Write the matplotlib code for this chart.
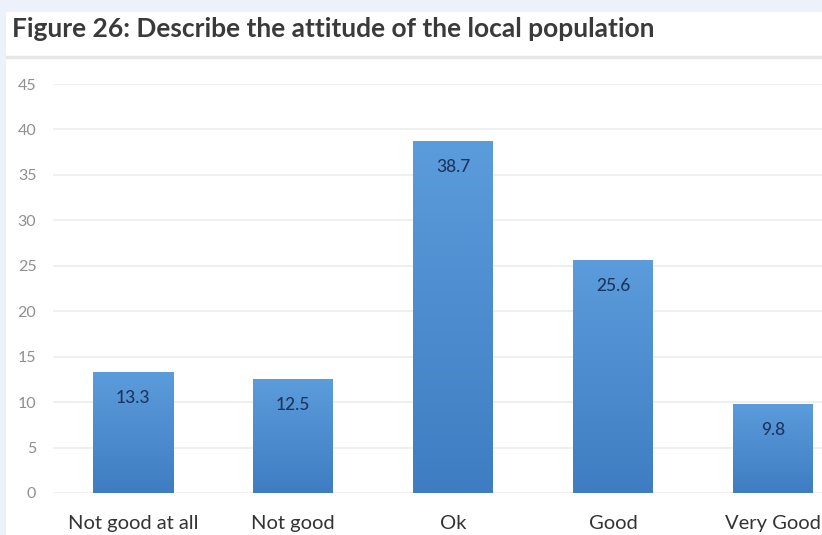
import matplotlib
matplotlib.use("Agg")
import matplotlib.pyplot as plt
import numpy as np
from matplotlib.patches import Rectangle
from matplotlib.lines import Line2D
from matplotlib.colors import LinearSegmentedColormap

categories = ["Not good at all", "Not good", "Ok", "Good", "Very Good"]
values = [13.3, 12.5, 38.7, 25.6, 9.8]
yticks = [0, 5, 10, 15, 20, 25, 30, 35, 40, 45]
title = "Figure 26: Describe the attitude of the local population"

plt.rcParams['font.family'] = ['Lato', 'DejaVu Sans']

W, H = 822, 535
fig = plt.figure(figsize=(W / 100, H / 100), dpi=100)
fig.patch.set_facecolor("white")

# light blue border strips (top and left)
fig.patches.append(Rectangle((0, 1 - 12 / H), 1, 12 / H, transform=fig.transFigure,
                             facecolor="#edf1f9", edgecolor="none", zorder=5))
fig.patches.append(Rectangle((0, 0), 6 / W, 1, transform=fig.transFigure,
                             facecolor="#edf1f9", edgecolor="none", zorder=5))
# separator line under title
fig.lines.append(Line2D([6 / W, 1], [1 - 57 / H, 1 - 57 / H], transform=fig.transFigure,
                        color="#e6e6e6", linewidth=2.5))

fig.text(12 / W, 1 - 29 / H, title, fontsize=19, fontweight="bold", color="#3a3a3a",
         va="center", ha="left")

ax = fig.add_axes([53 / W, 42 / H, 800 / W, 409 / H])
ax.set_facecolor("none")
x = np.arange(len(categories))
bars = ax.bar(x, values, width=0.5, color="#5a9ad6", edgecolor="none", zorder=2)

cmap = LinearSegmentedColormap.from_list("g", ["#3f7dc2", "#5b9cdc"])
grad = np.linspace(0, 1, 256).reshape(-1, 1)
for b in bars:
    x0, w, h = b.get_x(), b.get_width(), b.get_height()
    im = ax.imshow(grad, cmap=cmap, origin="lower", aspect="auto",
                   extent=[x0, x0 + w, 0, h], zorder=3)
    im.set_clip_path(b)

for xi, v in zip(x, values):
    ax.annotate(f"{v}", (xi, v), xytext=(0, -26), textcoords="offset pixels",
                ha="center", va="center", fontsize=12.5, fontweight="medium",
                color="#1c355e", zorder=4)

ax.set_xlim(-0.5, len(categories) - 0.5)
ax.set_ylim(0, 45)
ax.set_yticks(yticks)
ax.set_xticks(x)
ax.set_xticklabels(categories, fontsize=14.5, color="#333333")
ax.tick_params(axis="y", labelsize=11.5, labelcolor="#8f8f8f", length=0, pad=12)
ax.tick_params(axis="x", length=0, pad=16)
ax.yaxis.grid(True, color="#ececec", linewidth=1.2, zorder=0)
ax.set_axisbelow(True)
for s in ax.spines.values():
    s.set_visible(False)

fig.savefig("out.png", dpi=100, facecolor=fig.get_facecolor())
